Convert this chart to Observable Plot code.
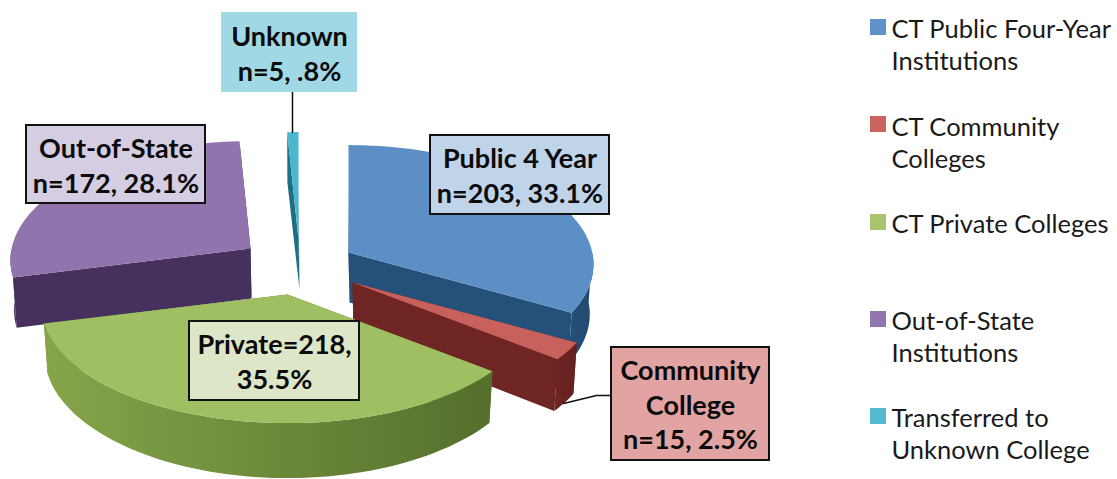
<!DOCTYPE html>
<html>
<head>
<meta charset="utf-8">
<style>html,body{margin:0;padding:0;background:#fff}</style>
<script src="https://cdn.jsdelivr.net/npm/d3@7"></script>
<script src="https://cdn.jsdelivr.net/npm/@observablehq/plot@0.6"></script>
</head>
<body>
<div id="chart"></div>
<script>
// ---- data
const categories = ["Public 4 Year", "Community College", "Private", "Out-of-State", "Unknown"];
const counts = [203, 15, 218, 172, 5];
const legendLabels = [
  ["CT Public Four-Year", "Institutions"],
  ["CT Community", "Colleges"],
  ["CT Private Colleges"],
  ["Out-of-State", "Institutions"],
  ["Transferred to", "Unknown College"]
];
const calloutLines = [
  ["Public 4 Year", "n=203, 33.1%"],
  ["Community", "College", "n=15, 2.5%"],
  ["Private=218,", "35.5%"],
  ["Out-of-State", "n=172, 28.1%"],
  ["Unknown", "n=5, .8%"]
];

// ---- styles
const topColors = ["#5b8fc6", "#c8605c", "#9fbf62", "#9174ad", "#4bb6d0"];
const radialColors = ["#25507a", "#6e2523", "#556f2c", "#46305e", "#1f6f84"];
const wallFrom = ["#25507a", "#6e2523", "#86a54a", "#46305e", "#2a8096"];
const wallTo = ["#234a70", "#642120", "#556f2c", "#46305e", "#17596c"];
const legendColors = ["#5f93c8", "#cb635e", "#a8c46d", "#9276b0", "#55b9d0"];
const calloutFill = ["#bfd4e9", "#e2a4a2", "#dde6c7", "#d5cde2", "#a1d8e6"];

// ---- layout of the exploded, tilted pie (apex of each slice, projection)
const apex = [[348, 252], [352, 282], [287, 294], [250, 248], [298, 239]];
const widthScale = [0.995, 1, 1, 0.975, 1];
const RX = 245, RY = 118, PX = 0.1, PY = 0.09, DEPTH = 50, BOTTOM_X = 0.985;
const boxes = [
  {x1: 430, x2: 609, y1: 135, y2: 214, b: true},
  {x1: 611, x2: 769, y1: 347, y2: 460, b: true},
  {x1: 189, x2: 359, y1: 321, y2: 400, b: true},
  {x1: 26, x2: 205, y1: 125, y2: 203, b: true},
  {x1: 221, x2: 357, y1: 12, y2: 92, b: false}
];
const leaders = [
  [{x: 292, y: 92}, {x: 292, y: 132}],
  [{x: 563, y: 403}, {x: 596, y: 395}, {x: 611, y: 395}]
];
const legendY = [[29, 61], [127, 159], [224], [321, 353], [418, 450]];
const swatchY = [19, 116, 214, 311, 408];

// ---- geometry derived from the counts
const arcs = d3.pie().sort(null).value(d => d)(counts);
function project(i, t, bottom) {
  const u = Math.sin(t), v = -Math.cos(t);
  let x = RX * widthScale[i] * u * (1 + PX * v), y = RY * v * (1 + PY * v);
  if (bottom) { x *= BOTTOM_X; y += DEPTH + 5 * Math.max(v, 0) ** 2; }
  return {x: apex[i][0] + x, y: apex[i][1] + y};
}
function centre(i, bottom) {
  return {x: apex[i][0] + (bottom ? 1 : 0), y: apex[i][1] + (bottom ? DEPTH : 0)};
}
function samples(a, b) {
  const n = Math.max(2, Math.ceil((b - a) / (Math.PI / 90)));
  return d3.range(n + 1).map(k => a + (b - a) * k / n);
}

const gradientDefs = () => {
  const defs = d3.create("svg:defs");
  categories.forEach((_, i) => {
    const g = defs.append("linearGradient").attr("id", "wall" + i)
      .attr("x1", 0).attr("x2", 1).attr("y1", 0).attr("y2", 0);
    g.append("stop").attr("offset", "0%").attr("stop-color", wallFrom[i]);
    g.append("stop").attr("offset", "100%").attr("stop-color", wallTo[i]);
  });
  return defs.node();
};

const poly = (pts, fill) => Plot.line(pts, {x: "x", y: "y", fill, stroke: "none"});

const sliceMarks = [];
[3, 4, 0, 1, 2].forEach(i => {
  const {startAngle: a, endAngle: b} = arcs[i];
  const wall = `url(#wall${i})`;
  // radial walls
  for (const t of [a, b]) {
    sliceMarks.push(poly([centre(i), project(i, t), project(i, t, true), centre(i, true)], radialColors[i]));
  }
  // outer wall, only its front part is visible
  const from = Math.max(a, Math.PI / 2), to = Math.min(b, 3 * Math.PI / 2);
  if (to > from) {
    const ts = samples(from, to);
    sliceMarks.push(poly([...ts.map(t => project(i, t)), ...ts.slice().reverse().map(t => project(i, t, true))], wall));
  }
  // top face
  sliceMarks.push(poly([centre(i), ...samples(a, b).map(t => project(i, t))], topColors[i]));
});

const calloutText = calloutLines.flatMap((lines, i) => {
  const b = boxes[i], mid = (b.y1 + b.y2) / 2, step = 34.8;
  return lines.map((t, k) => ({
    x: (b.x1 + b.x2) / 2,
    y: mid + (k - (lines.length - 1) / 2) * step + 2,
    t
  }));
});
const legendText = legendLabels.flatMap((lines, i) => lines.map((t, k) => ({x: 891, y: legendY[i][k], t})));
const swatches = swatchY.map((y, i) => ({x1: 870, x2: 886, y1: y, y2: y + 16, fill: legendColors[i]}));

const chart = Plot.plot({
  width: 1117, height: 479,
  margin: 0,
  x: {domain: [0, 1117], range: [0, 1117], axis: null},
  y: {domain: [0, 479], range: [0, 479], axis: null},
  style: {background: "#fff"},
  marks: [
    gradientDefs,
    ...sliceMarks,
    ...leaders.map(l => Plot.line(l, {x: "x", y: "y", stroke: "#111", strokeWidth: 1.5})),
    ...boxes.map((b, i) => Plot.rect([b], {
      x1: "x1", x2: "x2", y1: "y1", y2: "y2",
      fill: calloutFill[i],
      stroke: b.b ? "#111" : "none", strokeWidth: 2
    })),
    Plot.text(calloutText, {
      x: "x", y: "y", text: "t", fontFamily: "Lato", fontWeight: 700, fontSize: 27,
      fill: "#0b0b0b", textAnchor: "middle", lineAnchor: "middle"
    }),
    ...swatches.map(s => Plot.rect([s], {x1: "x1", x2: "x2", y1: "y1", y2: "y2", fill: s.fill, inset: 0})),
    Plot.text(legendText, {
      x: "x", y: "y", text: "t", fontFamily: "Lato", fontSize: 25.5,
      fill: "#1a1a1a", textAnchor: "start", lineAnchor: "middle"
    })
  ]
});
document.getElementById("chart").appendChild(chart);
</script>
</body>
</html>
